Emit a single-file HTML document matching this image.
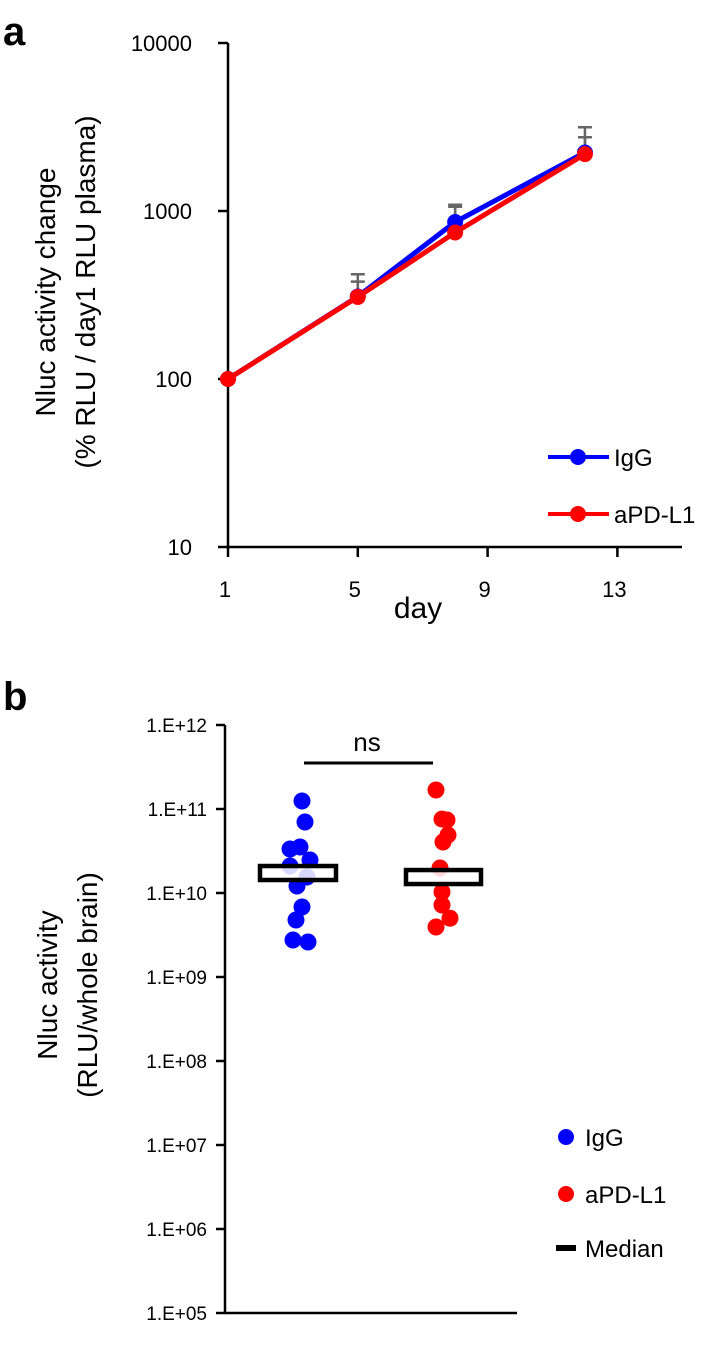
<!DOCTYPE html>
<html><head><meta charset="utf-8"><style>
body{margin:0;background:#fff;}
svg{display:block;font-family:"Liberation Sans",sans-serif;}
</style></head><body>
<svg id="fig" width="711" height="1366" viewBox="0 0 711 1366"></svg>
<script>
// Panel a data
const daysA = [1, 5, 8, 12];
const iggA = [100, 310, 860, 2230];
const pdl1A = [100, 308, 745, 2180];
const iggErrTop = [100, 420, 1090, 3150];
const pdl1ErrTop = [100, 380, 1060, 2750];
const yTicksA = [10, 100, 1000, 10000];
const xTicksA = [1, 5, 9, 13];
// Panel b data (log10 values)
const iggB = [11.095, 10.845, 10.524, 10.548, 10.393, 10.321, 10.19, 10.083, 9.833, 9.679, 9.44, 9.417];
const pdl1B = [11.226, 10.88, 10.869, 10.69, 10.607, 10.298, 10.012, 9.857, 9.70, 9.595];
const mediansB = [10.238, 10.19];
const yTickLabelsB = ["1.E+05","1.E+06","1.E+07","1.E+08","1.E+09","1.E+10","1.E+11","1.E+12"];
const yTickExpB = [5,6,7,8,9,10,11,12];

const NS="http://www.w3.org/2000/svg";
const svg=document.getElementById('fig');
function mk(tag,attrs,parent){const e=document.createElementNS(NS,tag);for(const k in attrs)e.setAttribute(k,attrs[k]);(parent||svg).appendChild(e);return e;}
function txt(s,attrs,parent){const e=mk('text',attrs,parent);e.textContent=s;return e;}

// Panel a scales
const xA=d=>228+(d-1)*32.45;
const yA=v=>547-(Math.log10(v)-1)*168;
const gA=mk('g',{});


let t=txt('a',{x:3,y:45,'font-size':40,'font-weight':'bold'},gA);

let ax=mk('path',{d:`M228 43 V547 H682`,stroke:'#000','stroke-width':2.5,fill:'none'},gA);

yTicksA.forEach(v=>{
  const tk=mk('line',{x1:218,x2:228,y1:yA(v),y2:yA(v),stroke:'#000','stroke-width':2.5},gA);
  
  const l=txt(String(v),{x:192,y:yA(v)+8,'font-size':22,'text-anchor':'end'},gA);
  
});
xTicksA.forEach(d=>{
  const tk=mk('line',{x1:xA(d),x2:xA(d),y1:547,y2:557,stroke:'#000','stroke-width':2.5},gA);
  
  const l=txt(String(d),{x:xA(d)-3,y:597,'font-size':22,'text-anchor':'middle'},gA);
  
});
t=txt('day',{x:418,y:618,'font-size':30,'text-anchor':'middle'},gA);

const yt=mk('text',{transform:'translate(0,292) rotate(-90)','font-size':28,'text-anchor':'middle'},gA);

const ts1=mk('tspan',{x:0,y:55},yt);ts1.textContent='Nluc activity change';
const ts2=mk('tspan',{x:0,y:95},yt);ts2.textContent='(% RLU / day1 RLU plasma)';
function errs(vals,tops,name){
  daysA.forEach((d,i)=>{
    if(tops[i]<=vals[i])return;
    const e=mk('path',{d:`M${xA(d)} ${yA(vals[i])} V${yA(tops[i])} M${xA(d)-7} ${yA(tops[i])} H${xA(d)+7}`,stroke:'#666','stroke-width':2.5,fill:'none'},gA);
    
  });
}
errs(iggA,iggErrTop,'igg');errs(pdl1A,pdl1ErrTop,'apdl1');
function series(vals,color,name){
  const p=mk('polyline',{points:daysA.map((d,i)=>xA(d)+','+yA(vals[i])).join(' '),stroke:color,'stroke-width':5,fill:'none'},gA);
  
  daysA.forEach((d,i)=>{
    const c=mk('circle',{cx:xA(d),cy:yA(vals[i]),r:8,fill:color},gA);
    
  });
}
series(iggA,'#0000ff','igg');series(pdl1A,'#ff0000','apdl1');
[['IgG','#0000ff',457],['aPD-L1','#ff0000',514]].forEach(([n,c,y])=>{
  const g=mk('g',{},gA);
  
  mk('line',{x1:548,x2:609,y1:y,y2:y,stroke:c,'stroke-width':4},g);
  mk('circle',{cx:578,cy:y,r:8,fill:c},g);
  txt(n,{x:614,y:y+9,'font-size':24},g);
});

// Panel b
const yB=e=>725+(12-e)*84;
const gB=mk('g',{});


t=txt('b',{x:3,y:710,'font-size':40,'font-weight':'bold'},gB);

ax=mk('path',{d:`M225 725 V1313 H517`,stroke:'#000','stroke-width':2.5,fill:'none'},gB);

yTickExpB.forEach((e,i)=>{
  const tk=mk('line',{x1:216,x2:225,y1:yB(e),y2:yB(e),stroke:'#000','stroke-width':2.5},gB);
  
  const l=txt(yTickLabelsB[i],{x:207,y:yB(e)+7,'font-size':19,'text-anchor':'end'},gB);
  
});
const ytb=mk('text',{transform:'translate(0,985) rotate(-90)','font-size':28,'text-anchor':'middle'},gB);

const tb1=mk('tspan',{x:0,y:57},ytb);tb1.textContent='Nluc activity';
const tb2=mk('tspan',{x:0,y:97},ytb);tb2.textContent='(RLU/whole brain)';
const jitterIgg=[302,305,290,300,310,290,307,297,302,296,293,308];
const jitterPd=[436,442,447,448,443,440,442,442,450,436];
iggB.forEach((v,i)=>{
  const c=mk('circle',{cx:jitterIgg[i%jitterIgg.length],cy:yB(v),r:8.5,fill:'#0000ff'},gB);
  
});
pdl1B.forEach((v,i)=>{
  const c=mk('circle',{cx:jitterPd[i%jitterPd.length],cy:yB(v),r:8.5,fill:'#ff0000'},gB);
  
});
[[260,336],[406,481]].forEach(([x0,x1],i)=>{
  const r=mk('rect',{x:x0,y:yB(mediansB[i])-7,width:x1-x0,height:14,fill:'#fff','fill-opacity':0.85,stroke:'#000','stroke-width':4.5},gB);
  
});
const ns=mk('line',{x1:304,x2:433,y1:763,y2:763,stroke:'#000','stroke-width':3},gB);

t=txt('ns',{x:367,y:751,'font-size':26,'text-anchor':'middle'},gB);

[['IgG','#0000ff',1137],['aPD-L1','#ff0000',1194]].forEach(([n,c,y])=>{
  const g=mk('g',{},gB);
  
  mk('circle',{cx:566,cy:y,r:8,fill:c},g);
  txt(n,{x:585,y:y+9,'font-size':24},g);
});
const gm=mk('g',{},gB);

mk('rect',{x:556,y:1245,width:20,height:6,fill:'#000'},gm);
txt('Median',{x:585,y:1257,'font-size':24},gm);
</script>
</body></html>
